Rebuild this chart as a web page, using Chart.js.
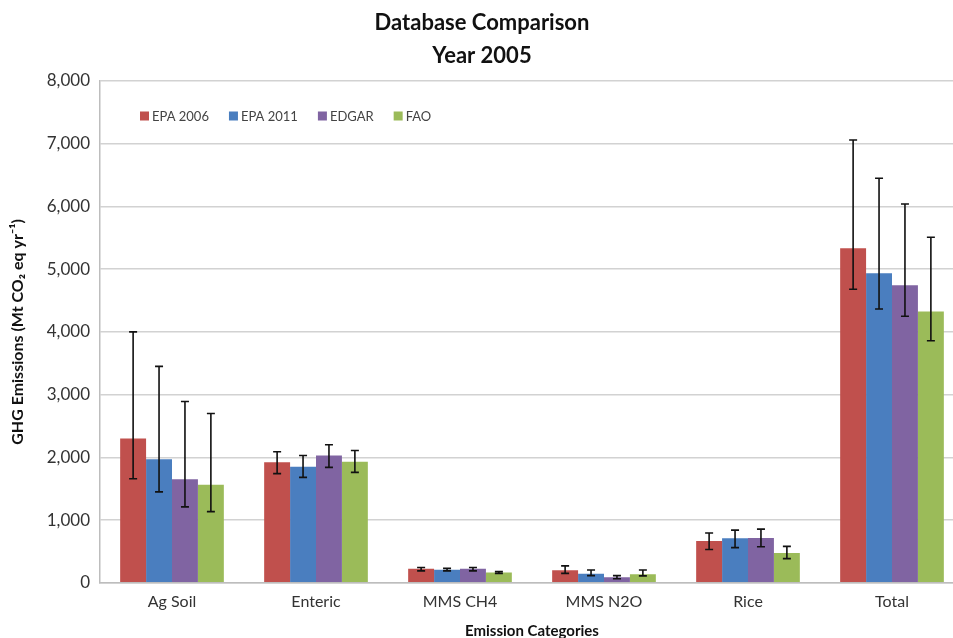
<!DOCTYPE html>
<html>
<head>
<meta charset="utf-8">
<script src="https://cdn.jsdelivr.net/npm/chart.js@4.4.1/dist/chart.umd.min.js"></script>
<style>
  html, body { margin: 0; padding: 0; background: #fff; overflow: hidden; }
  #wrap { position: relative; width: 980px; height: 644px; }
</style>
</head>
<body>
<div id="wrap"><canvas id="chart"></canvas></div>
<script>
(function () {
  'use strict';

  // ============================================================
  //  Data (Mt CO2 eq / yr)
  // ============================================================
  var categories = ['Ag Soil', 'Enteric', 'MMS CH4', 'MMS N2O', 'Rice', 'Total'];
  var seriesNames = ['EPA 2006', 'EPA 2011', 'EDGAR', 'FAO'];

  var epa2006 = [2300, 1920, 225, 200, 665, 5335];
  var epa2011 = [1970, 1850, 210, 145, 710, 4935];
  var edgar   = [1650, 2030, 225, 90, 715, 4745];
  var fao     = [1565, 1930, 165, 135, 475, 4325];

  // error bar ends (low / high)
  var epa2006Low  = [1660, 1740, 190, 150, 530, 4680];
  var epa2006High = [4000, 2090, 245, 270, 795, 7060];
  var epa2011Low  = [1450, 1680, 190, 115, 560, 4365];
  var epa2011High = [3450, 2030, 230, 205, 840, 6450];
  var edgarLow    = [1210, 1840, 190, 65, 575, 4250];
  var edgarHigh   = [2890, 2200, 245, 115, 855, 6040];
  var faoLow      = [1135, 1760, 150, 110, 385, 3860];
  var faoHigh     = [2700, 2110, 180, 205, 580, 5510];

  var yTicks = [0, 1000, 2000, 3000, 4000, 5000, 6000, 7000, 8000];

  var colors = ['#c0504d', '#4a7ebf', '#8064a2', '#9bbb59'];
  var values = [epa2006, epa2011, edgar, fao];
  var lows = [epa2006Low, epa2011Low, edgarLow, faoLow];
  var highs = [epa2006High, epa2011High, edgarHigh, faoHigh];

  var FONT = 'Lato, "Open Sans", sans-serif';

  // ============================================================
  //  Plugins — error bars + inline legend
  // ============================================================
  var errorBars = {
    id: 'errorBars',
    afterDatasetsDraw: function (chart) {
      var ctx = chart.ctx;
      var y = chart.scales.y;
      ctx.save();
      ctx.strokeStyle = '#111';
      ctx.lineWidth = 1.6;
      chart.data.datasets.forEach(function (ds, i) {
        var meta = chart.getDatasetMeta(i);
        meta.data.forEach(function (bar, j) {
          var top = y.getPixelForValue(ds.errHigh[j]);
          var bot = y.getPixelForValue(ds.errLow[j]);
          var cap = 4;
          ctx.beginPath();
          ctx.moveTo(bar.x, top); ctx.lineTo(bar.x, bot);
          ctx.moveTo(bar.x - cap, top); ctx.lineTo(bar.x + cap, top);
          ctx.moveTo(bar.x - cap, bot); ctx.lineTo(bar.x + cap, bot);
          ctx.stroke();
        });
      });
      ctx.restore();
    }
  };

  var innerLegend = {
    id: 'innerLegend',
    afterDraw: function (chart) {
      var ctx = chart.ctx;
      var area = chart.chartArea;
      var x = area.left + 40;
      var yc = area.top + 35;
      ctx.save();
      ctx.font = '13px ' + FONT;
      ctx.textBaseline = 'middle';
      chart.data.datasets.forEach(function (ds) {
        ctx.fillStyle = ds.backgroundColor;
        ctx.fillRect(x, yc - 4.5, 9, 9);
        ctx.fillStyle = '#444';
        ctx.fillText(ds.label, x + 12, yc + 1);
        x += 12 + ctx.measureText(ds.label).width + 20;
      });
      ctx.restore();
    }
  };

  // ============================================================
  //  Chart
  // ============================================================
  var datasets = seriesNames.map(function (name, i) {
    return {
      label: name,
      data: values[i],
      errLow: lows[i],
      errHigh: highs[i],
      backgroundColor: colors[i],
      borderWidth: 0,
      categoryPercentage: 0.72,
      barPercentage: 1.0
    };
  });

  new Chart(document.getElementById('chart').getContext('2d'), {
    type: 'bar',
    data: { labels: categories, datasets: datasets },
    options: {
      responsive: true,
      maintainAspectRatio: false,
      animation: false,
      layout: { padding: { left: 0, right: 16, bottom: 0 } },
      scales: {
        x: {
          grid: { display: false, drawTicks: false },
          border: { color: '#bdbdbd', width: 1.5 },
          ticks: { color: '#333', font: { size: 16, family: FONT }, padding: 9 },
          title: {
            display: true, text: 'Emission Categories', color: '#111',
            font: { size: 15, weight: 'bold', family: FONT }, padding: { top: 2 }
          }
        },
        y: {
          min: 0, max: 8000,
          afterBuildTicks: function (scale) {
            scale.ticks = yTicks.map(function (v) { return { value: v }; });
          },
          afterFit: function (scale) { scale.width = 100; },
          grid: { color: '#d2d2d2', lineWidth: 1.5, drawTicks: false },
          border: { color: '#bdbdbd', width: 1.5 },
          ticks: {
            color: '#333', font: { size: 17, family: FONT }, padding: 10,
            callback: function (v) { return v.toLocaleString('en-US'); }
          },
          title: {
            display: true, text: 'GHG Emissions (Mt CO\u2082 eq yr\u207B\u00B9)', color: '#111',
            font: { size: 16, weight: 'bold', family: FONT }, padding: { top: 8, bottom: 4 }
          }
        }
      },
      plugins: {
        legend: { display: false },
        tooltip: { enabled: false },
        title: {
          display: true,
          text: ['Database Comparison', 'Year 2005'],
          color: '#111',
          font: { size: 22, weight: 'bold', family: FONT, lineHeight: 1.5 },
          padding: { top: 6, bottom: 9 }
        }
      }
    },
    plugins: [errorBars, innerLegend]
  });
})();
</script>
</body>
</html>
